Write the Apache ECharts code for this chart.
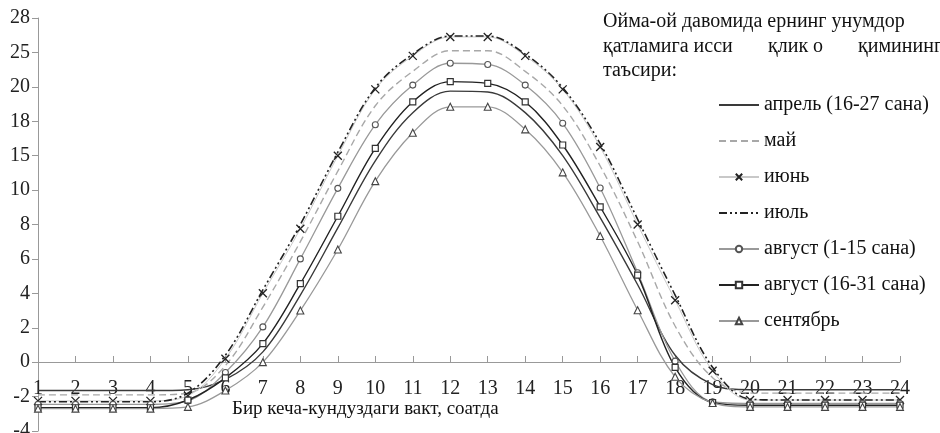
<!DOCTYPE html>
<html>
<head>
<meta charset="utf-8">
<script src="https://cdn.jsdelivr.net/npm/echarts@6/dist/echarts.min.js"></script>
<style>
html,body{margin:0;padding:0;background:#fff;}
#chart{width:940px;height:433px;}
</style>
</head>
<body>
<div id="chart"></div>
<script>
// ---- data (y values in plotted axis units; tick labels as printed) ----
var hours = [1,2,3,4,5,6,7,8,9,10,11,12,13,14,15,16,17,18,19,20,21,22,23,24];
var yTickLabels = ['-4','-2','0','2','4','6','8','10','15','18','20','25','28'];
var seriesNames = ['апрель (16-27 сана)','май','июнь','июль','август (1-15 сана)','август (16-31 сана)','сентябрь'];
var aprel  = [-1.65,-1.65,-1.65,-1.65,-1.6,-1.0,0.6,3.9,7.8,11.7,14.5,15.75,15.7,14.5,12.0,8.4,4.5,0.4,-1.3,-1.6,-1.6,-1.6,-1.6,-1.6];
var may    = [-1.9,-1.9,-1.9,-1.9,-1.8,-0.2,3.2,7.0,11.1,14.9,16.9,18.1,18.1,16.9,14.9,11.4,7.0,2.1,-0.9,-1.8,-1.8,-1.8,-1.8,-1.8];
var iyun   = [-2.25,-2.25,-2.25,-2.25,-1.95,0.2,4.0,7.75,12.0,15.85,17.8,18.9,18.9,17.8,15.85,12.5,8.0,3.6,-0.5,-2.2,-2.2,-2.2,-2.2,-2.2];
var iyul   = [-2.3,-2.3,-2.3,-2.3,-1.8,0.4,4.2,8.0,12.2,15.95,17.9,18.95,18.95,17.9,15.95,12.7,8.3,3.9,-0.3,-2.15,-2.2,-2.2,-2.2,-2.2];
var avg1   = [-2.45,-2.45,-2.45,-2.45,-2.25,-0.6,2.05,6.0,10.1,13.8,16.1,17.37,17.3,16.1,13.88,10.12,5.2,0.06,-2.3,-2.4,-2.4,-2.4,-2.4,-2.4];
var avg2   = [-2.65,-2.65,-2.65,-2.65,-2.2,-0.91,1.08,4.56,8.48,12.42,15.13,16.3,16.2,15.13,12.62,9.03,5.06,-0.3,-2.35,-2.5,-2.5,-2.5,-2.5,-2.5];
var sent   = [-2.7,-2.7,-2.7,-2.7,-2.6,-1.65,0.0,3.0,6.55,10.52,13.33,14.84,14.84,13.53,11.03,7.33,3.02,-0.85,-2.37,-2.6,-2.6,-2.6,-2.6,-2.6];

var FONT = '"Liberation Serif", "Times New Roman", serif';
function pairs(arr){ return hours.map(function(h,i){ return [h, arr[i]]; }); }

var Y_MIN = -4, Y_MAX = 20, Y_INT = 2;

function lineSeries(name, data, opt){
  return Object.assign({
    type:'line', name:name, data:pairs(data),
    smooth:0.35, showSymbol:true, animation:false,
    emphasis:{disabled:true}, z:2
  }, opt);
}

var series = [
  lineSeries(seriesNames[0], aprel, {symbol:'none', lineStyle:{color:'#3a3a3a', width:1.4}, itemStyle:{color:'#3a3a3a'}}),
  lineSeries(seriesNames[1], may, {symbol:'none', lineStyle:{color:'#a8a8a8', width:1.4, type:[7,4]}, itemStyle:{color:'#a8a8a8'}}),
  lineSeries(seriesNames[2], iyun, {symbol:'path://M0,0L10,10M10,0L0,10', symbolSize:8, symbolKeepAspect:true,
    lineStyle:{color:'#c8c8c8', width:1}, itemStyle:{color:'rgba(0,0,0,0)', borderColor:'#222', borderWidth:1.3}}),
  lineSeries(seriesNames[3], iyul, {symbol:'none', lineStyle:{color:'#222', width:1.6, type:[8,3,2,3,2,3]}, itemStyle:{color:'#222'}}),
  lineSeries(seriesNames[4], avg1, {symbol:'circle', symbolSize:6,
    lineStyle:{color:'#999', width:1.3}, itemStyle:{color:'#fff', borderColor:'#555', borderWidth:1.1}}),
  lineSeries(seriesNames[5], avg2, {symbol:'rect', symbolSize:6,
    lineStyle:{color:'#222', width:1.4}, itemStyle:{color:'#fff', borderColor:'#333', borderWidth:1.2}}),
  lineSeries(seriesNames[6], sent, {symbol:'triangle', symbolSize:7,
    lineStyle:{color:'#999', width:1.3}, itemStyle:{color:'#fff', borderColor:'#444', borderWidth:1.1}})
];

var noMarker = {0:true, 1:true, 3:true};
var legendData = seriesNames.map(function(n, i){
  return noMarker[i] ? {name:n, itemStyle:{opacity:0}} : {name:n};
});

var chart = echarts.init(document.getElementById('chart'), null, {renderer:'canvas'});
chart.setOption({
  backgroundColor:'#fff',
  animation:false,
  grid:{left:38, right:40, top:18, bottom:2, containLabel:false, outerBoundsMode:'none'},
  xAxis:{
    type:'value', min:1, max:24, interval:1, position:'bottom', offset:-69,
    axisLine:{onZero:false, lineStyle:{color:'#999', width:1}},
    axisTick:{inside:true, length:6, lineStyle:{color:'#999'}},
    axisLabel:{margin:17, color:'#222', fontFamily:FONT, fontSize:20, showMinLabel:true, showMaxLabel:true, hideOverlap:false},
    splitLine:{show:false}
  },
  yAxis:{
    type:'value', min:Y_MIN, max:Y_MAX, interval:Y_INT,
    axisLine:{show:true, onZero:false, lineStyle:{color:'#999', width:1}},
    axisTick:{show:true, length:6, lineStyle:{color:'#999'}},
    axisLabel:{margin:8, color:'#222', fontFamily:FONT, fontSize:20,
      formatter:function(v){ var i = Math.round((v - Y_MIN)/Y_INT); return yTickLabels[i] !== undefined ? yTickLabels[i] : ''; }},
    splitLine:{show:false}
  },
  legend:{
    orient:'vertical', left:713, top:90,
    itemWidth:40, itemHeight:8, itemGap:16,
    textStyle:{fontFamily:FONT, fontSize:20, color:'#111', lineHeight:20},
    data:legendData,
    selectedMode:false
  },
  graphic:[
    {type:'text', x:603, y:22, style:{text:'Ойма-ой давомида ернинг унумдор', font:'20px ' + FONT, fill:'#111', verticalAlign:'middle'}},
    {type:'text', x:603, y:47, style:{text:'қатламига исси', font:'20px ' + FONT, fill:'#111', verticalAlign:'middle'}},
    {type:'text', x:768, y:47, style:{text:'қлик о', font:'20px ' + FONT, fill:'#111', verticalAlign:'middle'}},
    {type:'text', x:858, y:47, style:{text:'қимининг', font:'20px ' + FONT, fill:'#111', verticalAlign:'middle'}},
    {type:'text', x:603, y:71, style:{text:'таъсири:', font:'20px ' + FONT, fill:'#111', verticalAlign:'middle'}},
    {type:'text', x:232, y:409, style:{text:'Бир кеча-кундуздаги вакт, соатда', font:'19px ' + FONT, fill:'#111', verticalAlign:'middle'}}
  ],
  series:series
});
</script>
</body>
</html>
